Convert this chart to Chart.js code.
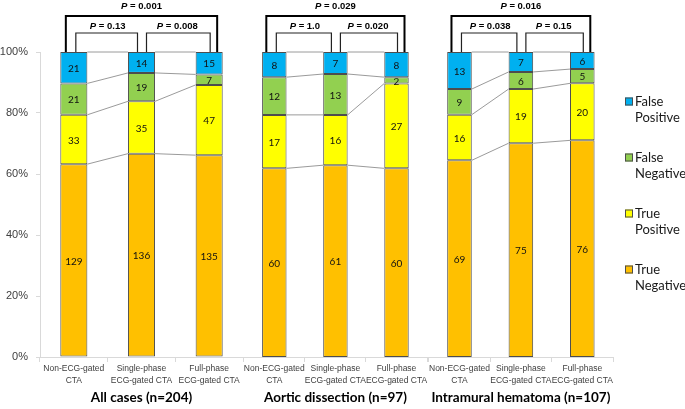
<!DOCTYPE html>
<html>
<head>
<meta charset="utf-8">
<script src="https://cdn.jsdelivr.net/npm/chart.js@4.4.1/dist/chart.umd.min.js"></script>
<style>
  body { margin: 0; background: #fff; }
  #wrap { display: flex; width: 685px; height: 409px; }
  canvas { display: block; flex: none; }
</style>
</head>
<body>
<div id="wrap">
  <canvas id="c0" width="243" height="409"></canvas>
  <canvas id="c1" width="185" height="409"></canvas>
  <canvas id="c2" width="257" height="409"></canvas>
</div>
<script>
// categories (per group) and group titles
const modalities = [['Non-ECG-gated', 'CTA'], ['Single-phase', 'ECG-gated CTA'], ['Full-phase', 'ECG-gated CTA']];
const groups = ['All cases (n=204)', 'Aortic dissection (n=97)', 'Intramural hematoma (n=107)'];

// counts, 9 bars = 3 groups x 3 modalities
const trueNeg  = [129, 136, 135, 60, 61, 60, 69, 75, 76];
const truePos  = [33, 35, 47, 17, 16, 27, 16, 19, 20];
const falseNeg = [21, 19, 7, 12, 13, 2, 9, 6, 5];
const falsePos = [21, 14, 15, 8, 7, 8, 13, 7, 6];

// p values: overall, first vs second, second vs third
const pOverall = ['0.001', '0.029', '0.016'];
const pFirst   = ['0.13', '1.0', '0.038'];
const pSecond  = ['0.008', '0.020', '0.15'];

const yTicks = [0, 20, 40, 60, 80, 100];

const seriesNames = ['True Negative', 'True Positive', 'False Negative', 'False Positive'];
const seriesColors = ['#FFC000', '#FFFF00', '#92D050', '#00B0F0'];

function drawP(ctx, value, cx, cy) {
  const boldItalic = 'italic bold 9.5px "Liberation Sans", Arial, sans-serif';
  const bold = 'bold 9.5px "Liberation Sans", Arial, sans-serif';
  const rest = ' = ' + value;
  ctx.font = boldItalic;
  const w1 = ctx.measureText('P').width;
  ctx.font = bold;
  const w2 = ctx.measureText(rest).width;
  let x = cx - (w1 + w2) / 2;
  ctx.textAlign = 'left';
  ctx.textBaseline = 'middle';
  ctx.fillStyle = '#000';
  ctx.font = boldItalic;
  ctx.fillText('P', x, cy);
  ctx.font = bold;
  ctx.fillText(rest, x + w1, cy);
}

function buildChart(g) {
  const s = 3 * g;
  const counts = [trueNeg, truePos, falseNeg, falsePos].map(a => a.slice(s, s + 3));
  const totals = [0, 1, 2].map(i => counts.reduce((t, c) => t + c[i], 0));

  const datasets = seriesNames.map((name, k) => ({
    label: name,
    data: counts[k].map((v, i) => v / totals[i] * 100),
    backgroundColor: seriesColors[k],
    borderColor: '#4d4d4d',
    borderWidth: 1,
    borderSkipped: false,
    barPercentage: 0.4,
    categoryPercentage: 1
  }));

  const extras = {
    id: 'extras',
    afterDraw(chart) {
      const ctx = chart.ctx;
      const metas = datasets.map((d, k) => chart.getDatasetMeta(k));
      const y = chart.scales.y;
      const top = y.getPixelForValue(100);

      // thin connector lines between neighbouring bars
      ctx.save();
      ctx.strokeStyle = '#808080';
      ctx.lineWidth = 0.8;
      metas.forEach(meta => {
        for (let i = 0; i < 2; i++) {
          const a = meta.data[i], b = meta.data[i + 1];
          ctx.beginPath();
          ctx.moveTo(a.x + a.width / 2, a.y);
          ctx.lineTo(b.x - b.width / 2, b.y);
          ctx.stroke();
        }
      });

      // count labels
      ctx.fillStyle = '#111';
      ctx.font = '10px Lato, sans-serif';
      ctx.textAlign = 'center';
      ctx.textBaseline = 'middle';
      metas.forEach((meta, k) => {
        meta.data.forEach((el, i) => {
          ctx.fillText(String(counts[k][i]), el.x, (el.y + el.base) / 2 + 1);
        });
      });

      // significance brackets
      const c = metas[0].data.map(el => el.x);
      ctx.strokeStyle = '#000';
      ctx.lineWidth = 2;
      ctx.beginPath();
      ctx.moveTo(c[0] - 8, top);
      ctx.lineTo(c[0] - 8, 16);
      ctx.lineTo(c[2] + 8, 16);
      ctx.lineTo(c[2] + 8, top);
      ctx.stroke();
      ctx.lineWidth = 1.2;
      ctx.strokeStyle = '#222';
      [[c[0] + 2, c[1] - 4], [c[1] + 5, c[2] + 1]].forEach(([l, r]) => {
        ctx.beginPath();
        ctx.moveTo(l, top);
        ctx.lineTo(l, 33);
        ctx.lineTo(r, 33);
        ctx.lineTo(r, top);
        ctx.stroke();
      });
      drawP(ctx, pOverall[g], (c[0] + c[2]) / 2, 6);
      drawP(ctx, pFirst[g], (c[0] + c[1]) / 2, 26);
      drawP(ctx, pSecond[g], (c[1] + c[2]) / 2 + 2, 26);

      // group title
      ctx.font = 'bold 13.5px Lato, sans-serif';
      ctx.fillStyle = '#000';
      ctx.textAlign = 'center';
      ctx.fillText(groups[g], c[1], 398);

      // legend on the last panel
      if (g === 2) {
        const lx = chart.chartArea.right + 12;
        ctx.font = '13px Lato, sans-serif';
        ctx.textAlign = 'left';
        for (let k = 3; k >= 0; k--) {
          const cy = 101.5 + (3 - k) * 56;
          ctx.fillStyle = seriesColors[k];
          ctx.fillRect(lx, cy - 4, 8, 8);
          ctx.strokeStyle = '#4d4d4d';
          ctx.lineWidth = 1;
          ctx.strokeRect(lx + 0.5, cy - 3.5, 7, 7);
          ctx.fillStyle = '#1a1a1a';
          const parts = seriesNames[k].split(' ');
          ctx.fillText(parts[0], lx + 10, cy);
          ctx.fillText(parts[1], lx + 10, cy + 16);
        }
      }
      ctx.restore();
    }
  };

  new Chart(document.getElementById('c' + g), {
    type: 'bar',
    data: { labels: modalities, datasets: datasets },
    options: {
      responsive: false,
      animation: false,
      layout: { padding: { top: 52, right: g === 2 ? 72 : 0, bottom: 0, left: 0 } },
      plugins: { legend: { display: false }, tooltip: { enabled: false } },
      scales: {
        x: {
          stacked: true,
          border: { color: '#d9d9d9' },
          grid: { offset: true, drawOnChartArea: false, tickLength: 5, color: '#d9d9d9' },
          ticks: {
            color: '#404040', padding: 1, maxRotation: 0, autoSkip: false,
            font: { family: '"Liberation Sans", Arial, sans-serif', size: 8.5, lineHeight: 1.35 }
          },
          afterFit(scale) { scale.height = 52; }
        },
        y: {
          display: g === 0,
          stacked: true,
          min: 0,
          max: 100,
          border: { color: '#d9d9d9' },
          grid: { drawOnChartArea: false, tickLength: 4, color: '#d9d9d9' },
          afterBuildTicks(scale) { scale.ticks = yTicks.map(v => ({ value: v })); },
          ticks: {
            color: '#404040', padding: 8,
            font: { family: '"Liberation Sans", Arial, sans-serif', size: 11 },
            callback: v => v + '%'
          },
          afterFit(scale) { scale.width = g === 0 ? 40 : 0; }
        }
      }
    },
    plugins: [extras]
  });
}

[0, 1, 2].forEach(buildChart);
</script>
</body>
</html>
